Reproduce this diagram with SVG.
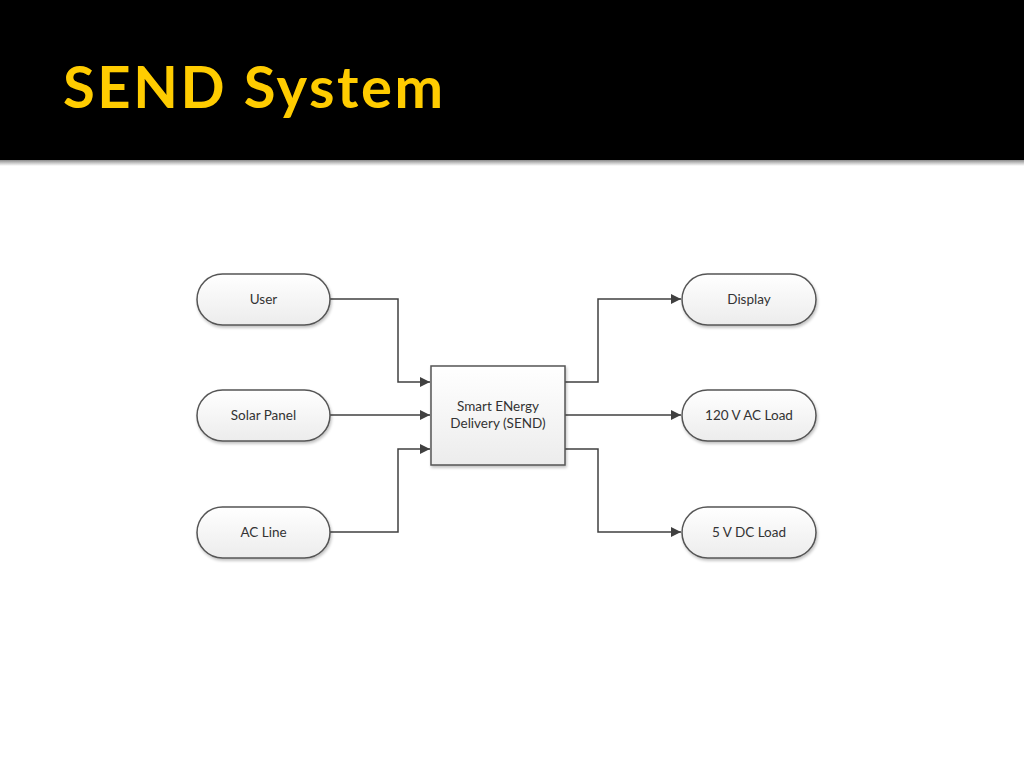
<svg xmlns="http://www.w3.org/2000/svg" width="1024" height="768" viewBox="0 0 1024 768">
<defs>
<linearGradient id="nodeFill" x1="0" y1="0" x2="0" y2="1">
<stop offset="0" stop-color="#ffffff"/>
<stop offset="1" stop-color="#ececec"/>
</linearGradient>
<linearGradient id="rule" x1="0" y1="0" x2="0" y2="1">
<stop offset="0" stop-color="#8a8a8a"/>
<stop offset="0.5" stop-color="#c8c8c8"/>
<stop offset="1" stop-color="#ffffff"/>
</linearGradient>
<filter id="shadow" x="-10%" y="-10%" width="130%" height="140%">
<feGaussianBlur in="SourceAlpha" stdDeviation="1.5"/>
<feOffset dx="1" dy="2" result="b"/>
<feComponentTransfer><feFuncA type="linear" slope="0.25"/></feComponentTransfer>
<feMerge><feMergeNode/><feMergeNode in="SourceGraphic"/></feMerge>
</filter>
<marker id="arrow" viewBox="0 0 10 10" refX="10" refY="5" markerWidth="12" markerHeight="10" markerUnits="userSpaceOnUse" orient="auto">
<path d="M0,0 L10,5 L0,10 z" fill="#404040"/>
</marker>
</defs>
<style>
.node { fill: url(#nodeFill); stroke: #555555; stroke-width: 1.5; filter: url(#shadow); }
.label { font-family: Lato, "Open Sans", sans-serif; font-size: 13.5px; fill: #333333; text-anchor: middle; }
.conn { fill: none; stroke: #404040; stroke-width: 1.5; marker-end: url(#arrow); }
.title { font-family: Lato, "Open Sans", sans-serif; font-weight: bold; font-size: 58px; fill: #FFCC00; }
</style>
<rect x="0" y="0" width="1024" height="768" fill="#ffffff"/>
<rect x="0" y="0" width="1024" height="160" fill="#000000"/>
<rect x="0" y="160" width="1024" height="6" fill="url(#rule)"/>
<text class="title" x="63" y="108" textLength="380" lengthAdjust="spacing">SEND System</text>

<g id="connectors">
<path class="conn" d="M330,299 H398 V382 H430"/>
<path class="conn" d="M330,415 H430"/>
<path class="conn" d="M330,532 H398 V449 H430"/>
<path class="conn" d="M565,382 H598 V299 H681"/>
<path class="conn" d="M565,415 H681"/>
<path class="conn" d="M565,449 H598 V532 H681"/>
</g>

<g id="node-user">
<rect class="node" x="197" y="274" width="133" height="51" rx="25.5"/>
<text class="label" x="263.5" y="303.5">User</text>
</g>
<g id="node-solar">
<rect class="node" x="197" y="390" width="133" height="51" rx="25.5"/>
<text class="label" x="263.5" y="419.5">Solar Panel</text>
</g>
<g id="node-acline">
<rect class="node" x="197" y="507" width="133" height="51" rx="25.5"/>
<text class="label" x="263.5" y="536.5">AC Line</text>
</g>
<g id="node-send">
<rect class="node" x="431" y="366" width="134" height="99" rx="0"/>
<text class="label" x="498" y="411">Smart ENergy</text>
<text class="label" x="498" y="428">Delivery (SEND)</text>
</g>
<g id="node-display">
<rect class="node" x="682" y="274" width="134" height="51" rx="25.5"/>
<text class="label" x="749" y="303.5">Display</text>
</g>
<g id="node-ac-load">
<rect class="node" x="682" y="390" width="134" height="51" rx="25.5"/>
<text class="label" x="749" y="419.5">120 V AC Load</text>
</g>
<g id="node-dc-load">
<rect class="node" x="682" y="507" width="134" height="51" rx="25.5"/>
<text class="label" x="749" y="536.5">5 V DC Load</text>
</g>
</svg>
